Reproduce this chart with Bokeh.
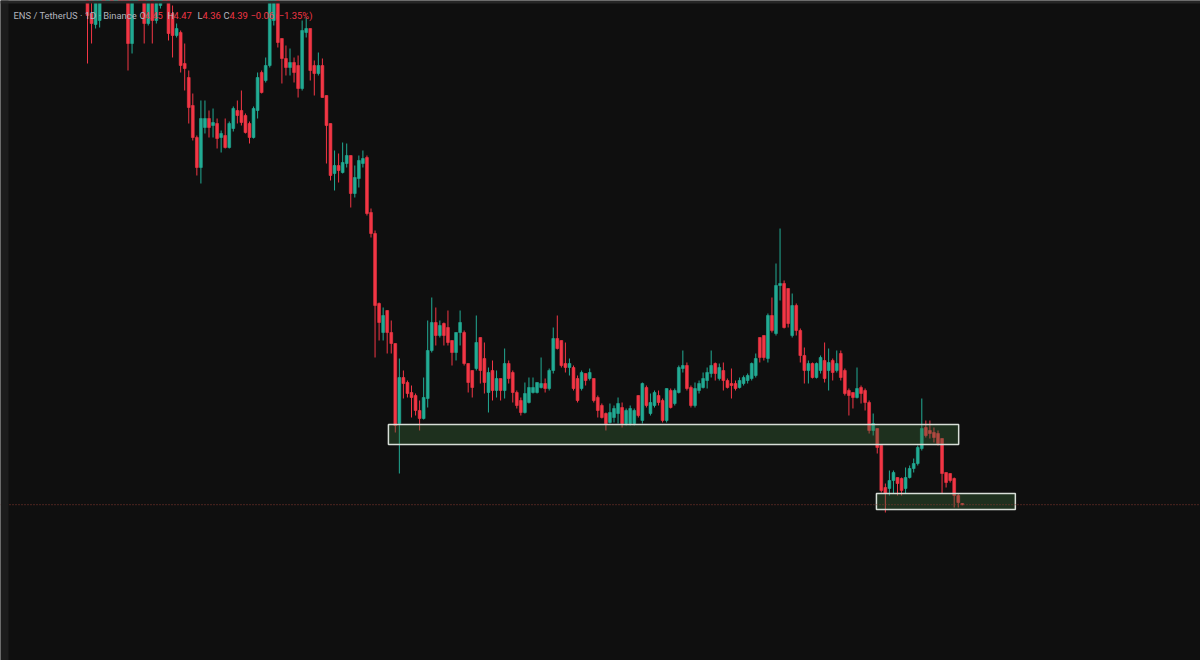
from bokeh.plotting import figure
from bokeh.models import ColumnDataSource, Range1d, BoxAnnotation, Span, Label
from bokeh.embed import file_html
from bokeh.resources import INLINE

# ENS / TetherUS daily candles (price estimates)
opens = [30.6,28.95,28.4,28.6,32.35,31.1,32.6,31.6,33.1,31.85,
30.1,27.45,29.85,31.1,30.0,28.45,29.85,28.6,29.35,30.6,
29.85,28.95,27.85,28.0,26.45,25.75,24.35,22.75,21.25,23.25,
23.7,23.35,23.45,22.75,22.85,22.25,23.2,24.1,24.1,23.85,
23.45,22.75,24.1,26.0,25.6,26.35,28.6,31.1,27.7,26.7,
26.25,26.5,26.35,25.2,28.0,28.2,26.35,25.95,26.35,24.85,
23.45,20.95,21.35,21.0,21.45,21.85,19.95,20.7,21.45,21.75,
19.0,17.95,14.45,13.0,14.1,13.0,12.45,8.45,10.75,10.5,
10.0,9.85,9.1,8.7,9.7,12.1,13.5,12.85,13.45,13.25,
12.6,12.0,13.0,13.0,11.45,11.1,11.2,12.75,11.7,10.0,
11.1,10.1,10.7,10.1,11.45,11.0,10.0,9.6,9.0,9.5,
10.0,10.0,10.25,10.45,10.2,11.1,12.7,12.6,11.45,11.25,
11.25,10.7,10.2,10.95,10.7,10.7,9.75,9.35,8.95,8.5,
8.75,8.95,9.25,8.45,8.45,8.45,9.85,8.6,10.25,8.95,
9.35,9.85,9.6,8.6,10.1,9.45,10.0,11.2,11.35,10.25,
9.35,10.1,10.25,10.6,10.95,11.45,10.7,11.1,10.6,10.45,
10.45,10.25,10.45,10.6,10.7,10.85,12.75,12.85,11.7,13.85,
12.95,15.35,15.45,15.2,12.85,14.35,13.1,11.85,11.1,11.45,
10.75,11.1,11.6,11.1,11.6,11.1,11.95,11.1,10.1,10.0,
9.75,10.25,10.1,9.5,8.1,8.2,7.35,5.25,5.2,5.6,
5.75,5.7,5.2,5.75,6.2,6.45,7.2,8.25,8.1,8.0,
7.95,7.7,6.0,5.95,5.7,4.85,4.45]

highs = [31.1,29.85,30.85,32.1,33.1,33.35,33.85,34.1,33.6,32.6,
30.35,30.6,31.6,31.85,30.2,30.35,30.1,30.85,31.1,31.35,
30.1,29.35,28.45,28.1,27.45,26.1,24.95,22.85,24.6,24.6,
24.1,24.2,23.7,23.1,23.7,23.55,24.3,24.6,25.1,23.95,
23.55,24.3,26.0,26.1,26.75,31.6,32.1,31.6,27.7,27.35,
27.2,26.75,26.85,28.6,28.75,28.2,26.6,27.0,26.7,24.85,
23.45,22.1,21.95,22.5,22.45,21.85,21.35,21.85,22.1,21.85,
19.2,18.1,14.5,14.25,14.1,13.6,12.45,11.7,11.1,10.6,
10.35,9.95,9.6,10.75,13.6,14.75,14.25,13.6,13.5,14.1,
12.6,13.0,14.1,13.1,11.45,11.1,13.85,12.75,12.5,11.25,
11.6,11.1,10.7,12.2,11.6,11.1,10.1,9.75,10.5,10.75,
10.75,10.5,11.75,10.7,11.2,13.25,13.85,12.6,12.5,11.7,
11.35,10.85,11.1,10.95,11.2,10.7,9.85,9.45,9.0,9.45,
9.35,9.75,9.5,9.2,9.35,9.2,9.85,10.5,10.35,9.95,
10.1,10.1,9.7,10.2,10.2,10.2,11.35,12.1,11.5,10.35,
10.5,10.6,11.0,11.25,12.1,11.5,11.45,11.5,10.7,11.2,
10.6,10.75,10.85,10.95,11.5,11.95,12.75,12.85,13.95,14.75,
16.45,18.2,15.6,15.2,14.95,14.45,13.2,12.25,11.6,11.5,
11.5,11.85,12.5,12.2,11.7,12.1,12.1,11.2,10.2,10.0,
11.25,10.35,10.2,9.6,8.95,8.2,7.35,5.45,6.1,6.1,
5.75,5.75,6.25,6.35,6.7,7.35,9.7,8.6,8.6,8.25,
8.1,7.7,6.0,5.95,5.75,4.95,4.47]

lows = [26.45,27.45,28.2,28.25,30.6,30.85,31.1,31.35,31.35,29.85,
26.1,26.95,29.75,29.8,27.45,28.35,27.45,28.45,29.2,29.7,
27.6,26.75,27.75,26.0,25.1,23.45,22.6,20.85,20.45,22.95,
22.75,22.75,22.2,22.0,22.2,22.2,23.05,23.45,23.35,22.95,
22.45,22.7,23.7,24.95,25.5,26.25,28.35,27.25,25.45,25.85,
25.85,25.5,24.75,25.1,27.75,25.6,24.85,25.85,24.75,21.45,
20.6,20.1,20.5,20.95,21.25,19.25,19.75,20.25,21.25,18.85,
17.75,11.75,12.6,12.6,11.95,11.95,8.0,5.95,9.7,9.75,
8.75,8.85,8.1,8.65,9.25,12.0,12.35,12.75,12.35,12.35,
11.35,11.6,12.35,11.35,10.0,9.75,11.1,10.45,9.95,9.0,
9.6,9.75,9.6,9.7,10.45,9.5,9.2,8.85,8.95,9.45,
9.95,9.95,10.2,10.0,10.1,10.95,12.15,11.25,11.0,10.85,
10.1,9.5,10.1,10.35,10.6,9.5,8.75,8.7,8.1,8.45,
8.5,8.45,8.25,8.35,8.35,8.35,8.75,8.45,9.25,8.85,
9.25,9.35,8.5,8.5,9.2,9.35,9.95,11.0,10.1,9.25,
9.25,9.95,10.2,10.2,10.75,10.6,10.6,10.1,10.2,9.7,
10.1,10.2,10.35,10.45,10.6,10.75,11.5,11.6,11.5,13.0,
12.85,14.6,13.2,13.25,12.75,12.85,11.5,10.45,10.45,10.7,
10.7,10.95,10.5,10.1,10.6,11.0,10.6,9.85,8.85,9.2,
9.7,9.45,9.1,7.95,7.85,6.95,5.0,4.0,4.85,4.95,
4.85,4.85,4.95,5.7,6.0,6.35,7.1,7.75,7.7,7.5,
7.35,4.95,5.25,5.5,4.25,4.25,4.36]

closes = [28.85,28.45,30.1,31.6,31.1,32.6,31.6,33.1,31.85,30.1,
27.45,29.85,31.1,30.0,28.45,29.85,28.6,30.35,30.6,29.85,
27.95,27.85,28.2,26.35,26.2,24.25,22.75,21.25,23.7,23.7,
23.25,23.5,22.7,22.95,22.25,23.45,24.2,23.85,23.5,23.0,
22.75,24.2,25.75,25.0,26.35,30.6,31.35,27.5,26.7,26.25,
26.5,26.0,25.2,28.1,28.2,26.1,25.95,26.35,24.75,23.35,
20.85,21.35,21.1,21.5,21.85,19.95,20.75,21.6,21.7,18.95,
17.95,14.35,13.5,13.85,13.0,12.45,8.35,10.75,10.45,9.95,
9.75,9.1,8.7,9.75,12.1,13.5,12.85,13.35,12.85,12.5,
12.0,13.0,13.5,11.45,10.5,10.25,12.5,11.1,10.5,11.0,
10.1,10.7,10.1,11.45,10.7,10.0,9.35,9.0,9.95,10.25,
10.25,10.5,10.45,10.2,11.1,12.7,12.2,11.35,11.25,11.45,
10.2,9.6,11.0,10.6,11.0,9.6,9.1,8.75,8.45,9.0,
9.2,9.45,8.45,9.1,9.2,9.1,8.85,10.45,9.35,9.5,
10.0,9.5,8.6,10.2,9.25,10.1,11.25,11.35,10.2,9.35,
10.2,10.45,10.7,11.0,11.35,10.95,11.25,10.6,10.25,10.35,
10.2,10.6,10.75,10.85,11.45,11.7,11.75,11.75,13.85,13.1,
15.35,15.45,13.25,13.45,14.35,13.1,11.85,11.1,11.45,10.75,
11.45,11.75,10.7,11.5,11.0,11.45,10.75,9.95,9.85,9.75,
10.2,9.95,9.5,8.1,8.45,7.25,5.1,4.95,5.6,6.0,
5.45,5.1,5.75,6.2,6.45,7.25,8.2,7.85,7.95,7.75,
7.45,5.95,5.5,5.6,4.85,4.5,4.39]

# Drawn zones: (start bar, end bar, top price, bottom price)
zone_upper = (74.3, 215.1, 8.4, 7.4)
zone_lower = (194.8, 229.1, 4.95, 4.15)
last_price = 4.39

UP = "#22ab94"
DOWN = "#f23645"

n = len(closes)
idx = list(range(n))
colors = [UP if c >= o else DOWN for o, c in zip(opens, closes)]
src = ColumnDataSource(dict(
    x=idx, o=opens, h=highs, l=lows, c=closes,
    top=[max(o, c) for o, c in zip(opens, closes)],
    bot=[min(o, c) for o, c in zip(opens, closes)],
    color=colors,
))

px_per_bar = 4.05
x0 = -87 / px_per_bar
x1 = x0 + 1200 / px_per_bar

p = figure(width=1200, height=660, x_range=Range1d(x0, x1), y_range=Range1d(-3.4, 29.6),
           toolbar_location=None, output_backend="svg",
           x_axis_location=None, y_axis_location=None,
           min_border=0, background_fill_color="#0f0f0f", border_fill_color="#0f0f0f")
p.grid.visible = False
p.outline_line_color = None

p.segment(x0="x", y0="l", x1="x", y1="h", color="color", line_width=1, source=src)
p.vbar(x="x", width=0.7, top="top", bottom="bot", fill_color="color",
       line_color="color", line_width=0.6, source=src)

for z in (zone_upper, zone_lower):
    p.quad(left=z[0], right=z[1], top=z[2], bottom=z[3],
           fill_color="#3a6b3a", fill_alpha=0.36,
           line_color="#d8ded8", line_width=1.5)

p.add_layout(Span(location=last_price, dimension="width", line_color="#8c3d33",
                  line_dash="1 2", line_width=1))

# frame edges
p.add_layout(BoxAnnotation(left=0, right=8, left_units="screen", right_units="screen",
                           fill_color="#1c1c1c", fill_alpha=1, line_color="#2a2a2a", line_alpha=0))
p.add_layout(BoxAnnotation(left=0, right=1200, left_units="screen", right_units="screen",
                           bottom=29.45, fill_color="#262626", fill_alpha=1, line_alpha=0))

GRAY = "#b2b5be"
pieces = [
    ("ENS / TetherUS · 1D · Binance", 13, GRAY),
    ("O", 139, GRAY), ("4.45", 144, DOWN),
    ("H", 167, GRAY), ("4.47", 173, DOWN),
    ("L", 197, GRAY), ("4.36", 202, DOWN),
    ("C", 223, GRAY), ("4.39", 229, DOWN),
    ("\u22120.06", 250, DOWN), ("(\u22121.35%)", 275, DOWN),
]
for t, xx, col in pieces:
    p.add_layout(Label(x=xx, y=660 - 15, x_units="screen", y_units="screen", text=t,
                       text_font="Roboto", text_font_size="9.4px", text_color=col,
                       text_baseline="middle"))

open("out.html", "w").write(file_html(p, INLINE))
